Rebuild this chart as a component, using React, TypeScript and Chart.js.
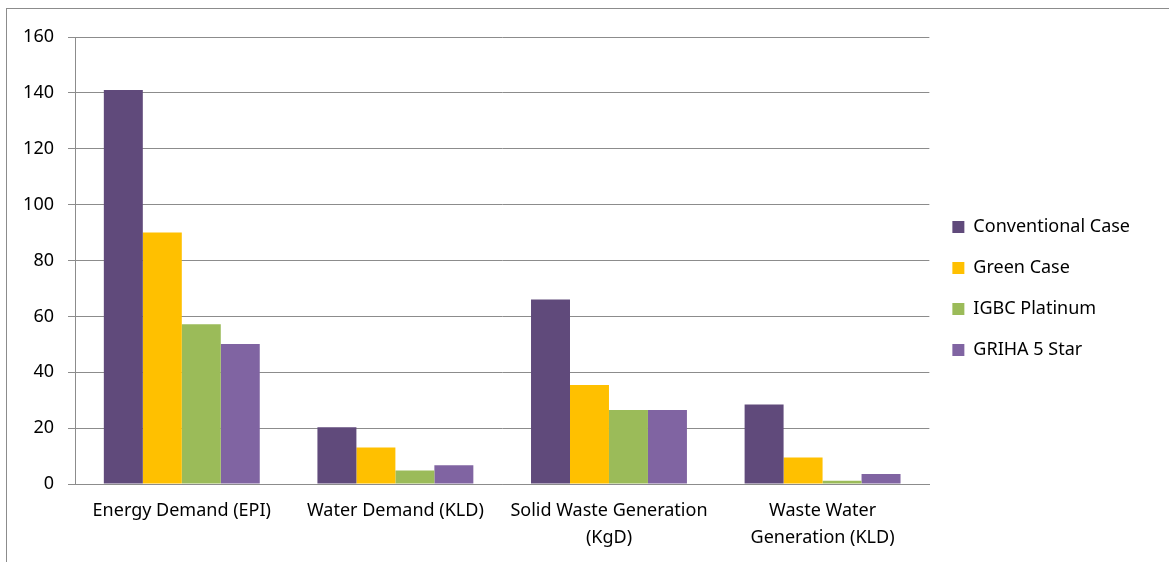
import React, { useEffect, useRef } from "react";
import { Chart, registerables } from "chart.js";

Chart.register(...registerables);

const categories: string[][] = [
  ["Energy Demand (EPI)"],
  ["Water Demand (KLD)"],
  ["Solid Waste Generation", "(KgD)"],
  ["Waste Water", "Generation (KLD)"],
];
const seriesNames = ["Conventional Case", "Green Case", "IGBC Platinum", "GRIHA 5 Star"];
const conventional = [141, 20.3, 66, 28.5];
const greenCase = [90, 13.1, 35.4, 9.5];
const igbcPlatinum = [57.2, 4.8, 26.5, 1.2];
const griha5Star = [50.1, 6.7, 26.5, 3.6];
const seriesColors = ["#604A7B", "#FFC000", "#9BBB59", "#8064A2"];
const yMin = 0;
const yMax = 160;
const yStep = 20;

const FONT = "'Noto Sans', sans-serif";
const GRID = "#8c8c8c";

export default function App() {
  const ref = useRef<HTMLCanvasElement | null>(null);

  useEffect(() => {
    if (!ref.current) return;
    const values = [conventional, greenCase, igbcPlatinum, griha5Star];
    const chart = new Chart(ref.current, {
      type: "bar",
      data: {
        labels: categories,
        datasets: values.map((v, i) => ({
          label: seriesNames[i],
          data: v,
          backgroundColor: seriesColors[i],
          borderWidth: 0,
          barPercentage: 1,
          categoryPercentage: 0.73,
        })),
      },
      options: {
        animation: false,
        responsive: false,
        maintainAspectRatio: false,
        layout: { padding: { left: 0, top: 37, right: 29, bottom: 0 } },
        plugins: {
          legend: {
            position: "right",
            align: "center",
            fullSize: false,
            title: {
              display: true,
              text: "",
              font: { family: FONT, size: 10, lineHeight: 1.2 },
              padding: { top: 22, bottom: 22 },
            },
            labels: {
              boxWidth: 12,
              boxHeight: 12,
              padding: 23,
              color: "#000",
              font: { family: FONT, size: 18 },
            },
          },
          tooltip: { enabled: false },
        },
        scales: {
          x: {
            grid: { display: false },
            border: { display: true, color: GRID, width: 1 },
            ticks: {
              color: "#000",
              font: { family: FONT, size: 18, lineHeight: 1.5 },
              padding: 5,
              maxRotation: 0,
              autoSkip: false,
            },
            afterFit: (s: any) => {
              s.height = 78;
            },
          },
          y: {
            min: yMin,
            max: yMax,
            ticks: {
              stepSize: yStep,
              color: "#000",
              font: { family: FONT, size: 18 },
              padding: 14,
            },
            grid: { color: GRID, lineWidth: 1, tickLength: 7 },
            border: { display: true, color: GRID, width: 1 },
            afterFit: (s: any) => {
              s.width = 75;
            },
          },
        },
      },
    });
    return () => chart.destroy();
  }, []);

  return (
    <div style={{ position: "fixed", left: 0, top: 0, width: 1169, height: 562, background: "#fff" }}>
      <div
        style={{
          position: "absolute",
          left: 6,
          top: 8,
          width: 1200,
          height: 600,
          borderLeft: "1px solid #8c8c8c",
          borderTop: "1px solid #8c8c8c",
        }}
      />
      <canvas ref={ref} width={1169} height={562} style={{ position: "absolute", left: 0, top: 0 }} />
    </div>
  );
}
